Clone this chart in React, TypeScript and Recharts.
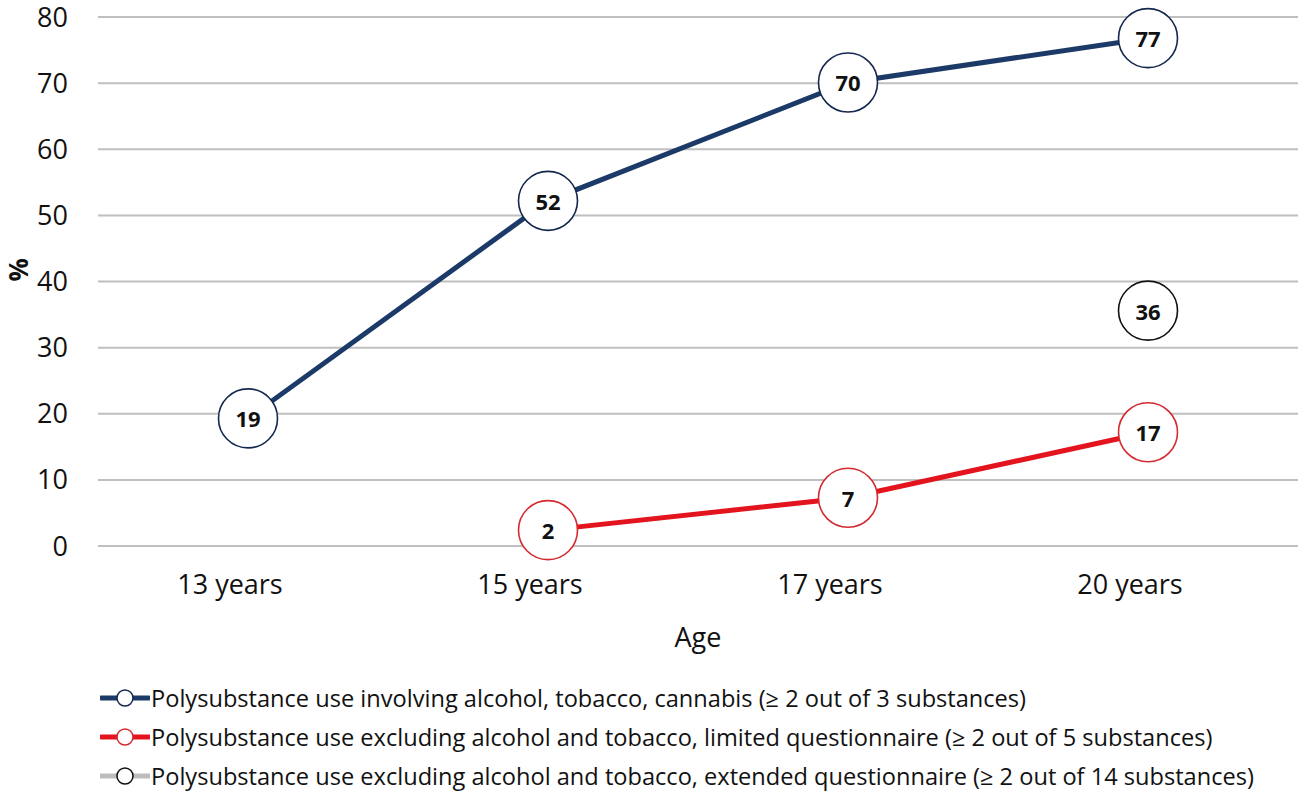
import { CartesianGrid, Label, Legend, Line, LineChart, XAxis, YAxis } from "recharts";

const ages = ["13 years", "15 years", "17 years", "20 years"];
const threeSubstances = [19.3, 52.2, 70.1, 76.8];
const limitedQuestionnaire = [null, 2.4, 7.3, 17.2];
const extendedQuestionnaire = [null, null, null, 35.6];
const yTicks = [0, 10, 20, 30, 40, 50, 60, 70, 80];

const seriesNames = [
  "Polysubstance use involving alcohol, tobacco, cannabis (≥ 2 out of 3 substances)",
  "Polysubstance use excluding alcohol and tobacco, limited questionnaire (≥ 2 out of 5 substances)",
  "Polysubstance use excluding alcohol and tobacco, extended questionnaire (≥ 2 out of 14 substances)",
];

const data = ages.map((age, i) => ({
  age,
  three: threeSubstances[i],
  limited: limitedQuestionnaire[i],
  extended: extendedQuestionnaire[i],
}));

const FONT = "'Open Sans', Lato, sans-serif";
const BLUE = "#1c3a68";
const RED = "#e3141e";
const GREY = "#bdbdbd";

const series = [
  { key: "three", name: seriesNames[0], line: BLUE, ring: "#14284e" },
  { key: "limited", name: seriesNames[1], line: RED, ring: "#d42a30" },
  { key: "extended", name: seriesNames[2], line: GREY, ring: "#111111" },
];

function makeDot(ring: string) {
  return (props: any) => {
    const { cx, cy, value, index } = props;
    if (value == null || cx == null || cy == null) return <g key={index} />;
    return (
      <g key={index}>
        <circle cx={cx} cy={cy} r={29.5} fill="#fff" stroke={ring} strokeWidth={1.6} />
        <text
          x={cx}
          y={cy}
          textAnchor="middle"
          dominantBaseline="central"
          fontFamily={FONT}
          fontWeight={700}
          fontSize={22}
          fill="#111"
        >
          {Math.round(value)}
        </text>
      </g>
    );
  };
}

function AgeTick(props: any) {
  const { x, y, payload } = props;
  return (
    <text x={x - 18} y={y + 29} textAnchor="middle" dominantBaseline="central" fontFamily={FONT} fontSize={27} fill="#111">
      {payload.value}
    </text>
  );
}

function LegendRows() {
  return (
    <div style={{ paddingTop: 6, paddingLeft: 100, fontFamily: FONT, fontSize: 23.6, color: "#111" }}>
      {series.map((s) => (
        <div key={s.key} style={{ display: "flex", alignItems: "center", height: 39 }}>
          <svg width={50} height={20} style={{ flex: "none" }}>
            <line x1={1} y1={10} x2={49} y2={10} stroke={s.line} strokeWidth={5} strokeLinecap="round" />
            <circle cx={25} cy={10} r={8} fill="#fff" stroke={s.ring} strokeWidth={1.5} />
          </svg>
          <span style={{ marginLeft: 1, whiteSpace: "nowrap" }}>{s.name}</span>
        </div>
      ))}
    </div>
  );
}

export default function App() {
  return (
    <div style={{ position: "absolute", left: 0, top: 0, width: 1300, height: 792, background: "#fff" }}>
      <LineChart width={1300} height={792} data={data} margin={{ top: 17, right: 2, left: 0, bottom: 0 }}>
        <CartesianGrid vertical={false} stroke="#bfbfbf" strokeWidth={2} />
        <XAxis
          dataKey="age"
          axisLine={{ stroke: "#bfbfbf", strokeWidth: 2 }}
          tickLine={false}
          tick={<AgeTick />}
          height={126}
          interval={0}
          padding={{ left: 150, right: 150 }}
        >
          <Label value="Age" position="insideTop" offset={82} style={{ fontFamily: FONT, fontSize: 27, fill: "#111" }} />
        </XAxis>
        <YAxis
          width={98}
          domain={[0, 80]}
          ticks={yTicks}
          axisLine={false}
          tickLine={false}
          tickMargin={24}
          tick={{ fontFamily: FONT, fontSize: 27, fill: "#111" }}
        >
          <Label value="%" angle={-90} position="insideLeft" offset={19} style={{ fontFamily: FONT, fontSize: 26, fontWeight: 700, fill: "#111" }} />
        </YAxis>
        <Legend verticalAlign="bottom" align="left" height={120} content={<LegendRows />} />
        {series.map((s) => (
          <Line
            key={s.key}
            dataKey={s.key}
            name={s.name}
            stroke={s.line}
            strokeWidth={5}
            dot={makeDot(s.ring)}
            activeDot={false}
            isAnimationActive={false}
          />
        ))}
      </LineChart>
    </div>
  );
}
